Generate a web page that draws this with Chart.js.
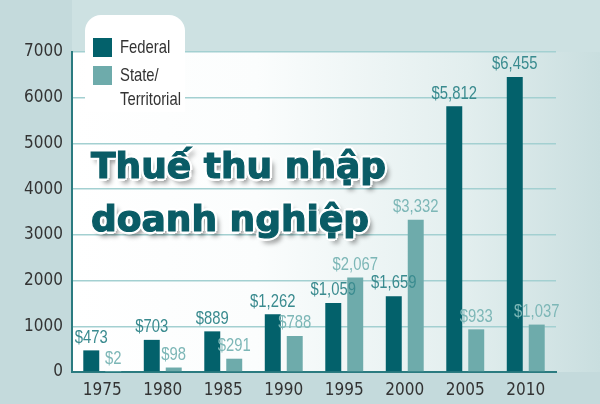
<!DOCTYPE html>
<html>
<head>
<meta charset="utf-8">
<script src="https://cdn.jsdelivr.net/npm/chart.js@4/dist/chart.umd.min.js"></script>
<style>
  html, body { margin: 0; padding: 0; background: #c6dcde; }
  #wrap { position: relative; width: 600px; height: 404px; overflow: hidden; }
  #title {
    position: absolute; left: 91px; top: 139px;
    font-family: 'DejaVu Sans', sans-serif; font-weight: bold;
    font-size: 36px; line-height: 53px; color: #0a5c66; white-space: nowrap;
    -webkit-text-stroke: 1.2px #0a5c66;
    text-shadow:
      -3px 0 0 #fff, 3px 0 0 #fff, 0 -3px 0 #fff, 0 3px 0 #fff,
      -2px -2px 0 #fff, 2px -2px 0 #fff, -2px 2px 0 #fff, 2px 2px 0 #fff,
      4px 5px 5px rgba(0,0,0,0.45);
  }
</style>
</head>
<body>
<div id="wrap">
  <canvas id="chart" width="600" height="404"></canvas>
  <div id="title">Thuế thu nhập<br>doanh nghiệp</div>
</div>
<script>
// Chart data (millions of dollars)
const years = ['1975', '1980', '1985', '1990', '1995', '2000', '2005', '2010'];
// 1995 bar is drawn at ~1,509 in the source, though its label reads $1,059
const federal = [473, 703, 889, 1262, 1509, 1659, 5812, 6455];
const federalLabels = ['$473', '$703', '$889', '$1,262', '$1,059', '$1,659', '$5,812', '$6,455'];
const state = [2, 98, 291, 788, 2067, 3332, 933, 1037];
const stateLabels = ['$2', '$98', '$291', '$788', '$2,067', '$3,332', '$933', '$1,037'];
const seriesNames = ['Federal', ['State/', 'Territorial']];
const yMax = 7000;
const yStep = 1000;

const FED_COLOR = '#03616b';
const STATE_COLOR = '#6eabab';
const TICK_FONT = "'DejaVu Sans Condensed', sans-serif";
const LABEL_FONT = "'Liberation Sans', Arial, sans-serif";

// narrow text: draw Liberation Sans squeezed horizontally
function narrowText(ctx, text, x, y, align) {
    const sx = 0.78;
    ctx.save();
    ctx.translate(x, y);
    ctx.scale(sx, 1);
    ctx.textAlign = align;
    ctx.fillText(text, 0, 0);
    ctx.restore();
}

// Background panels + gradient
const backgroundPlugin = {
    id: 'bg',
    beforeDraw(chart) {
        const { ctx, chartArea: a } = chart;
        ctx.save();
        ctx.fillStyle = '#c4dadc';
        ctx.fillRect(0, 0, chart.width, chart.height);
        ctx.fillStyle = '#cde1e2';
        ctx.fillRect(a.left, 0, chart.width - a.left, a.top);
        const g = ctx.createLinearGradient(a.left, 0, chart.width, 0);
        g.addColorStop(0, '#ffffff');
        g.addColorStop(0.35, '#fbfdfd');
        g.addColorStop(0.75, '#e2eeee');
        g.addColorStop(1, '#c9dedf');
        ctx.fillStyle = g;
        ctx.fillRect(a.left, a.top, chart.width - a.left, a.bottom - a.top);
        ctx.restore();
    }
};

// Value labels above bars
const valueLabelPlugin = {
    id: 'valueLabels',
    afterDatasetsDraw(chart) {
        const { ctx } = chart;
        const texts = [federalLabels, stateLabels];
        const colors = ['#3a8b8f', '#7db7b7'];
        ctx.save();
        ctx.font = '19px ' + LABEL_FONT;
        ctx.textBaseline = 'middle';
        chart.data.datasets.forEach((ds, di) => {
            ctx.fillStyle = colors[di];
            chart.getDatasetMeta(di).data.forEach((bar, i) => {
                narrowText(ctx, texts[di][i], bar.x, bar.y - 13, 'center');
            });
        });
        ctx.restore();
    }
};

// Legend drawn in a white tab over the top of the plot
const legendTabPlugin = {
    id: 'legendTab',
    afterDraw(chart) {
        const { ctx } = chart;
        const x0 = 85, x1 = 185, y0 = 15, y1 = 112, r = 16;
        ctx.save();
        ctx.beginPath();
        ctx.moveTo(x0, y1);
        ctx.lineTo(x0, y0 + r);
        ctx.arcTo(x0, y0, x0 + r, y0, r);
        ctx.lineTo(x1 - r, y0);
        ctx.arcTo(x1, y0, x1, y0 + r, r);
        ctx.lineTo(x1, y1);
        ctx.closePath();
        ctx.fillStyle = '#ffffff';
        ctx.fill();

        ctx.fillStyle = FED_COLOR;
        ctx.fillRect(93, 38, 19, 19);
        ctx.fillStyle = STATE_COLOR;
        ctx.fillRect(93, 66, 19, 19);
        ctx.font = '19px ' + LABEL_FONT;
        ctx.textBaseline = 'middle';
        ctx.fillStyle = '#333333';
        narrowText(ctx, seriesNames[0], 120, 48, 'left');
        narrowText(ctx, seriesNames[1][0], 120, 76, 'left');
        narrowText(ctx, seriesNames[1][1], 120, 100, 'left');
        ctx.restore();
    }
};

new Chart(document.getElementById('chart'), {
    type: 'bar',
    data: {
        labels: years,
        datasets: [
            { label: 'Federal', data: federal, backgroundColor: FED_COLOR },
            { label: 'State/Territorial', data: state, backgroundColor: STATE_COLOR }
        ]
    },
    options: {
        responsive: false,
        animation: false,
        categoryPercentage: 0.726,
        barPercentage: 0.727,
        layout: { padding: { top: 52, right: 44, left: 0, bottom: 0 } },
        plugins: {
            legend: { display: false },
            tooltip: { enabled: false }
        },
        scales: {
            x: {
                grid: { display: false, drawTicks: false },
                border: { display: true, color: '#2b7b80', width: 2 },
                ticks: { color: '#333333', padding: 8, font: { family: TICK_FONT, size: 17 } },
                afterFit: (scale) => { scale.height = 32; }
            },
            y: {
                min: 0,
                max: yMax,
                grid: { color: '#a3d0d1', lineWidth: 1.5, drawTicks: false },
                border: { display: true, color: '#2b7b80', width: 2 },
                ticks: {
                    stepSize: yStep,
                    color: '#333333',
                    padding: 9,
                    font: { family: TICK_FONT, size: 17 },
                    callback: (v) => String(v)
                },
                afterFit: (scale) => { scale.width = 72; }
            }
        }
    },
    plugins: [backgroundPlugin, valueLabelPlugin, legendTabPlugin]
});
</script>
</body>
</html>
